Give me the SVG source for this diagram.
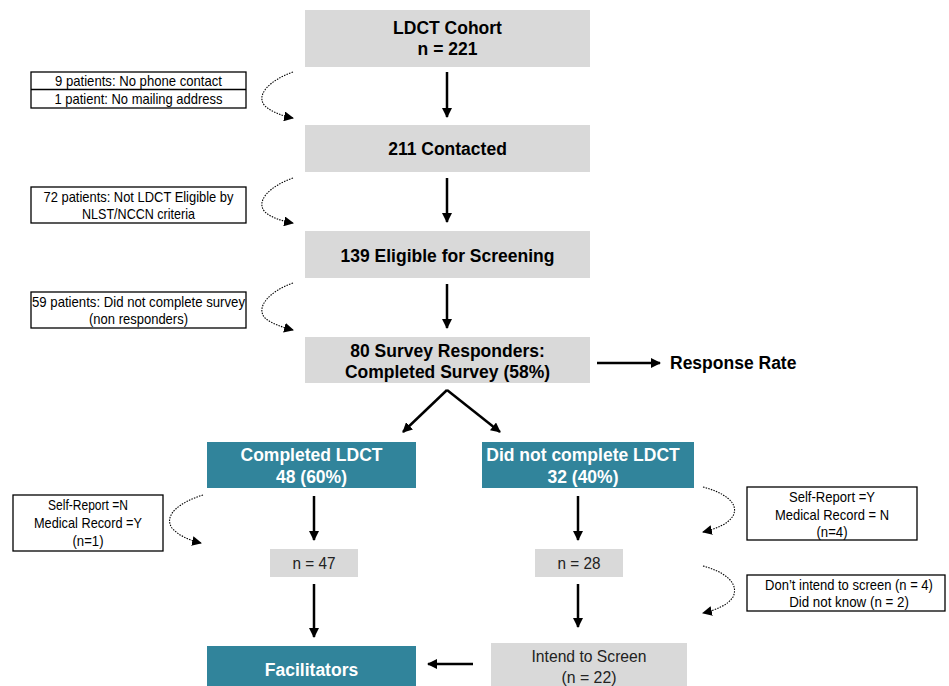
<svg xmlns="http://www.w3.org/2000/svg" width="949" height="686" viewBox="0 0 949 686">
<defs>
<marker id="ah" viewBox="0 0 10 10" refX="9" refY="5" markerWidth="4" markerHeight="4" orient="auto" markerUnits="strokeWidth">
<path d="M0,0 L10,5 L0,10 z" fill="#000"/>
</marker>
<marker id="ahd" viewBox="0 0 10 10" refX="9" refY="5" markerWidth="9" markerHeight="9" orient="auto" markerUnits="strokeWidth">
<path d="M0,0 L10,5 L0,10 z" fill="#000"/>
</marker>
<style>
.g{fill:#d9d9d9}
.t{fill:#31849b}
.b{fill:none;stroke:#000;stroke-width:1.3}
.bt{font-family:"Liberation Sans",Arial,sans-serif;font-weight:bold;font-size:17.5px;fill:#000;text-anchor:middle}
.wt{font-family:"Liberation Sans",Arial,sans-serif;font-weight:bold;font-size:17.5px;fill:#fff;text-anchor:middle}
.n{font-family:"Liberation Sans Narrow","Liberation Sans",Arial,sans-serif;font-size:15px;fill:#000;text-anchor:middle}
.m{font-family:"Liberation Sans Narrow","Liberation Sans",Arial,sans-serif;font-size:17px;fill:#222;text-anchor:middle}
.a{fill:none;stroke:#000;stroke-width:2.5;marker-end:url(#ah)}
.d{fill:none;stroke:#000;stroke-width:1.1;stroke-dasharray:1.5 1.2;marker-end:url(#ahd)}
</style>
</defs>
<rect width="949" height="686" fill="#fff"/>
<g id="connectors">
<path class="a" d="M447,72 V117"/>
<path class="a" d="M447,178 V222"/>
<path class="a" d="M447,284 V328"/>
<path class="a" d="M597,363 H660"/>
<path class="a" d="M447,390 L403,432"/>
<path class="a" d="M447,390 L500,432"/>
<path class="a" d="M314,496 V540"/>
<path class="a" d="M578,496 V540"/>
<path class="a" d="M314,584 V637"/>
<path class="a" d="M578,584 V627"/>
<path class="a" d="M473,664 H428"/>
<path class="d" d="M293,72 C270,80 255,95 265,106 C272,112 282,116 293,118"/>
<path class="d" d="M293,178 C270,186 255,201 265,212 C272,218 282,221 293,223"/>
<path class="d" d="M293,283 C270,291 255,307 265,318 C272,324 282,327 293,330"/>
<path class="d" d="M203,495 C180,502 163,515 172,528 C178,535 188,540 201,543"/>
<path class="d" d="M703,487 C722,492 740,502 733,516 C728,524 716,529 703,532"/>
<path class="d" d="M703,566 C722,571 740,582 733,597 C728,605 716,610 703,613"/>
</g>
<g id="cohort"><rect class="g" x="305" y="10" width="285" height="57"/>
<text class="bt" x="447.5" y="34">LDCT Cohort</text><text class="bt" x="447.5" y="55">n = 221</text></g>
<g id="contacted"><rect class="g" x="305" y="125" width="285" height="47"/>
<text class="bt" x="447.5" y="155">211 Contacted</text></g>
<g id="eligible"><rect class="g" x="305" y="231" width="285" height="47"/>
<text class="bt" x="447.5" y="262">139 Eligible for Screening</text></g>
<g id="responders"><rect class="g" x="305" y="337" width="285" height="46"/>
<text class="bt" x="447.5" y="357">80 Survey Responders:</text><text class="bt" x="447.5" y="378">Completed Survey (58%)</text></g>
<g id="response-rate"><text class="bt" x="670" y="369" style="text-anchor:start">Response Rate</text></g>
<g id="completed"><rect class="t" x="207" y="442" width="209" height="46"/>
<text class="wt" x="311.5" y="461">Completed LDCT</text><text class="wt" x="311.5" y="483">48 (60%)</text></g>
<g id="not-completed"><rect class="t" x="482" y="442" width="212" height="46"/>
<text class="wt" x="583" y="461">Did not complete LDCT</text><text class="wt" x="583" y="483">32 (40%)</text></g>
<g id="n47"><rect class="g" x="270" y="549" width="88" height="28"/>
<text class="m" x="314" y="569" textLength="43" lengthAdjust="spacingAndGlyphs">n = 47</text></g>
<g id="n28"><rect class="g" x="535" y="549" width="88" height="28"/>
<text class="m" x="579" y="569" textLength="43" lengthAdjust="spacingAndGlyphs">n = 28</text></g>
<g id="facilitators"><rect class="t" x="207" y="646" width="209" height="40"/>
<text class="wt" x="311.5" y="676">Facilitators</text></g>
<g id="intend"><rect class="g" x="491" y="643" width="196" height="43"/>
<text class="m" x="589" y="662" textLength="115" lengthAdjust="spacingAndGlyphs">Intend to Screen</text>
<text class="m" x="589" y="683" textLength="55" lengthAdjust="spacingAndGlyphs">(n = 22)</text></g>
<g id="excl-contact"><rect class="b" x="31" y="72" width="215" height="36"/><path class="b" d="M31,89.5 H246"/>
<text class="n" x="138.5" y="86" textLength="167" lengthAdjust="spacingAndGlyphs">9 patients: No phone contact</text>
<text class="n" x="138.5" y="104" textLength="168" lengthAdjust="spacingAndGlyphs">1 patient: No mailing address</text></g>
<g id="excl-eligible"><rect class="b" x="31" y="187" width="215" height="36"/>
<text class="n" x="138.5" y="202" textLength="190" lengthAdjust="spacingAndGlyphs">72 patients: Not LDCT Eligible by</text>
<text class="n" x="138.5" y="219" textLength="113" lengthAdjust="spacingAndGlyphs">NLST/NCCN criteria</text></g>
<g id="excl-survey"><rect class="b" x="31" y="292" width="215" height="36"/>
<text class="n" x="138.5" y="307" textLength="213" lengthAdjust="spacingAndGlyphs">59 patients: Did not complete survey</text>
<text class="n" x="138.5" y="324" textLength="99" lengthAdjust="spacingAndGlyphs">(non responders)</text></g>
<g id="mismatch-n"><rect class="b" x="13" y="495" width="150" height="56"/>
<text class="n" x="88" y="510" textLength="80" lengthAdjust="spacingAndGlyphs">Self-Report =N</text>
<text class="n" x="88" y="528" textLength="108" lengthAdjust="spacingAndGlyphs">Medical Record =Y</text>
<text class="n" x="88" y="546" textLength="31" lengthAdjust="spacingAndGlyphs">(n=1)</text></g>
<g id="mismatch-y"><rect class="b" x="747" y="487" width="170" height="53"/>
<text class="n" x="832" y="502" textLength="86" lengthAdjust="spacingAndGlyphs">Self-Report =Y</text>
<text class="n" x="832" y="520" textLength="114" lengthAdjust="spacingAndGlyphs">Medical Record = N</text>
<text class="n" x="832" y="537" textLength="31" lengthAdjust="spacingAndGlyphs">(n=4)</text></g>
<g id="not-intend"><rect class="b" x="747" y="575" width="198" height="36"/>
<text class="n" transform="translate(849,590) scale(0.867,1)" x="0" y="0">Don’t intend to screen (n = 4)</text>
<text class="n" transform="translate(849,607) scale(0.89,1)" x="0" y="0">Did not know (n = 2)</text></g>
</svg>
